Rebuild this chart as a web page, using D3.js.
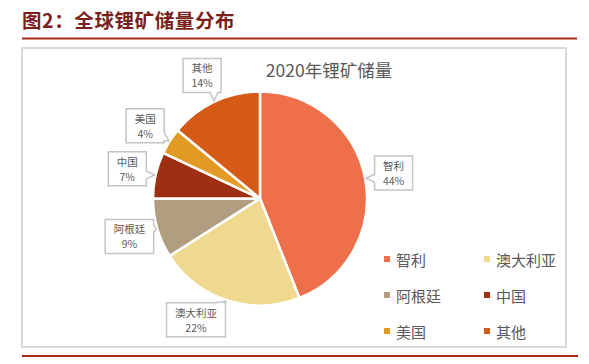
<!DOCTYPE html>
<html><head><meta charset="utf-8">
<script src="https://cdn.jsdelivr.net/npm/d3@7"></script>
<style>
html,body{margin:0;padding:0;background:#fff;}
svg{display:block;}
text{font-family:"Noto Sans CJK SC","Noto Sans",sans-serif;}
</style></head>
<body>
<svg id="c" width="589" height="364"></svg>
<script>
const categories = ["智利","澳大利亚","阿根廷","中国","美国","其他"];
const shares = [44, 22, 9, 7, 4, 14];
const colors = ["#ee704a","#efd98e","#b09c7e","#9e2f10","#e39a25","#d55a17"];
const chartTitle = "2020年锂矿储量";
const figTitle = "图2：全球锂矿储量分布";

const svg = d3.select("#c");

// header
svg.append("text").attr("x",22).attr("y",28)
  .attr("font-size",19.5).attr("font-weight","bold").attr("fill","#7b1f1c")
  .attr("letter-spacing",0.6)
  .text(figTitle);
svg.append("rect").attr("x",22).attr("y",37.5).attr("width",555).attr("height",2).attr("fill","#a52b12");
svg.append("rect").attr("x",22).attr("y",355).attr("width",556).attr("height",2).attr("fill","#a52b12");

// chart frame
svg.append("rect").attr("x",22).attr("y",48).attr("width",544).attr("height",299)
  .attr("fill","#fff").attr("stroke","#d9d9d9").attr("stroke-width",2);

svg.append("text").attr("x",329).attr("y",77).attr("text-anchor","middle")
  .attr("font-size",17.5).attr("fill","#595959").text(chartTitle);

const cx = 260, cy = 198.5, R = 107;
const data = categories.map((c,i)=>({name:c, value:shares[i], color:colors[i]}));
const pie = d3.pie().value(d=>d.value).sort(null).startAngle(0).endAngle(2*Math.PI);
const arcs = pie(data);
const arc = d3.arc().innerRadius(0).outerRadius(R);

const g = svg.append("g").attr("transform",`translate(${cx},${cy})`);
g.selectAll("path").data(arcs).join("path")
  .attr("d",arc).attr("fill",d=>d.data.color)
  .attr("stroke","#fff").attr("stroke-width",2.5).attr("stroke-linejoin","round");

// callout labels
const labelR = 136;
const nudge = {"澳大利亚":[-22,-8]};
const fs = 10.5;
arcs.forEach(a=>{
  const mid = (a.startAngle+a.endAngle)/2;
  const name = a.data.name;
  const w = name.length*fs + 17, h = 34;
  let bx = labelR*Math.sin(mid), by = -labelR*Math.cos(mid);
  if(nudge[name]){ bx += nudge[name][0]; by += nudge[name][1]; }
  const tx = (R+1)*Math.sin(mid), ty = -(R+1)*Math.cos(mid);
  const x0 = bx-w/2, x1 = bx+w/2, y0 = by-h/2, y1 = by+h/2;
  const dx = (tx-bx)/(w/2), dy = (ty-by)/(h/2);
  const hw = 4;
  let pts;
  if(Math.abs(dx) > Math.abs(dy)){
    const py = Math.max(y0+6, Math.min(y1-6, ty));
    if(dx>0){
      pts=[[x0,y0],[x1,y0],[x1,py-hw],[tx,ty],[x1,py+hw],[x1,y1],[x0,y1]];
    } else {
      pts=[[x0,y0],[x1,y0],[x1,y1],[x0,y1],[x0,py+hw],[tx,ty],[x0,py-hw]];
    }
  } else {
    const px = Math.max(x0+6, Math.min(x1-6, tx));
    if(dy>0){
      pts=[[x0,y0],[x1,y0],[x1,y1],[px+hw,y1],[tx,ty],[px-hw,y1],[x0,y1]];
    } else {
      pts=[[x0,y0],[px-hw,y0],[tx,ty],[px+hw,y0],[x1,y0],[x1,y1],[x0,y1]];
    }
  }
  g.append("path").attr("d","M"+pts.map(p=>p.join(",")).join("L")+"Z")
    .attr("fill","#fff").attr("stroke","#c4c4c4").attr("stroke-width",1.5);
  g.append("text").attr("x",bx).attr("y",by-3).attr("text-anchor","middle")
    .attr("font-size",fs).attr("fill","#595959").text(name);
  g.append("text").attr("x",bx).attr("y",by+12).attr("text-anchor","middle")
    .attr("font-size",fs).attr("fill","#595959").text(a.data.value+"%");
});

// legend
const lg = svg.append("g");
data.forEach((d,i)=>{
  const col=i%2,row=Math.floor(i/2);
  const x = 387 + col*100, y = 259 + row*36;
  lg.append("rect").attr("x",x-3).attr("y",y-3).attr("width",6).attr("height",6).attr("fill",d.color);
  lg.append("text").attr("x",x+9).attr("y",y).attr("dominant-baseline","central")
    .attr("font-size",15).attr("fill","#595959").text(d.name);
});
</script>
</body></html>
